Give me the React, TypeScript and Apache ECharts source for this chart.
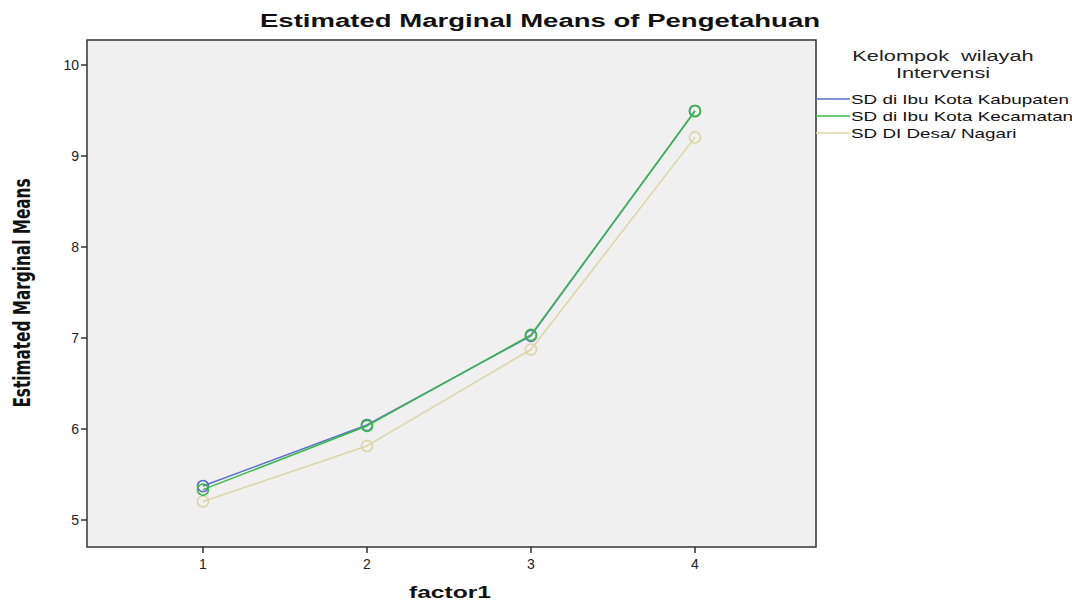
import React, { useEffect, useRef } from "react";
import * as echarts from "echarts";

const categories = [1, 2, 3, 4];
const seriesNames = [
  "SD di Ibu Kota Kabupaten",
  "SD di Ibu Kota Kecamatan",
  "SD DI Desa/ Nagari",
];
const kabupaten = [5.37, 6.04, 7.02, 9.49];
const kecamatan = [5.33, 6.03, 7.03, 9.49];
const desa = [5.2, 5.81, 6.87, 9.2];
const yTicks = [5, 6, 7, 8, 9, 10];
const colors = ["#5c6fc4", "#3cb84a", "#ddd4a6"];
const chartTitle = "Estimated Marginal Means of Pengetahuan";
const legendTitle = ["Kelompok  wilayah", "Intervensi"];
const xName = "factor1";
const yName = "Estimated Marginal Means";

export default function App() {
  const ref = useRef<HTMLDivElement>(null);
  useEffect(() => {
    const chart = echarts.init(ref.current!, null, { renderer: "svg" });
    const values = [kabupaten, kecamatan, desa];
    const font = "'Liberation Sans', Arial, sans-serif";
    const SX = 1.45;
    const legendGraphics: any[] = [];
    seriesNames.forEach((n, i) => {
      const y = 99 + i * 17;
      legendGraphics.push({
        type: "line",
        shape: { x1: 816, y1: y, x2: 850, y2: y },
        style: { stroke: colors[i], lineWidth: 1.5 },
      });
      legendGraphics.push({
        type: "text",
        x: 851,
        y: y,
        scaleX: SX,
        style: {
          text: n,
          fill: "#111",
          font: `13px ${font}`,
          verticalAlign: "middle",
        },
      });
    });
    chart.setOption({
      animation: false,
      backgroundColor: "#ffffff",
      grid: {
        left: 87,
        top: 40,
        right: 256,
        bottom: 55,
        outerBoundsMode: "none",
        containLabel: false,
        show: true,
        backgroundColor: "#f0f0f0",
        borderColor: "#333",
        borderWidth: 1.5,
      },
      graphic: [
        {
          type: "text",
          x: 540,
          y: 21,
          scaleX: SX,
          style: {
            text: chartTitle,
            fill: "#111",
            font: `bold 19px ${font}`,
            align: "center",
            verticalAlign: "middle",
          },
        },
        {
          type: "text",
          x: 943,
          y: 56,
          scaleX: SX,
          style: {
            text: legendTitle[0],
            fill: "#222",
            font: `15px ${font}`,
            align: "center",
            verticalAlign: "middle",
          },
        },
        {
          type: "text",
          x: 943,
          y: 73,
          scaleX: SX,
          style: {
            text: legendTitle[1],
            fill: "#222",
            font: `15px ${font}`,
            align: "center",
            verticalAlign: "middle",
          },
        },
        {
          type: "text",
          x: 450,
          y: 592,
          scaleX: SX,
          style: {
            text: xName,
            fill: "#111",
            font: `bold 17px ${font}`,
            align: "center",
            verticalAlign: "middle",
          },
        },
        {
          type: "text",
          x: 22,
          y: 293,
          rotation: Math.PI / 2,
          scaleY: 1.4,
          style: {
            text: yName,
            fill: "#111",
            font: `bold 17px 'Liberation Sans Narrow', 'DejaVu Sans Condensed', Arial, sans-serif`,
            align: "center",
            verticalAlign: "middle",
          },
        },
        ...legendGraphics,
      ],
      xAxis: {
        type: "value",
        min: 0.293,
        max: 4.738,
        axisLine: { show: false },
        axisTick: {
          show: true,
          length: 6,
          customValues: categories,
          lineStyle: { color: "#333", width: 1.5 },
        },
        axisLabel: {
          customValues: categories,
          fontFamily: font,
          fontSize: 14,
          color: "#222",
          margin: 10,
        },
        splitLine: { show: false },
      },
      yAxis: {
        type: "value",
        min: 4.7,
        max: 10.27,
        axisLine: { show: false },
        axisTick: {
          show: true,
          length: 6,
          customValues: yTicks,
          lineStyle: { color: "#333", width: 1.5 },
        },
        axisLabel: {
          customValues: yTicks,
          fontFamily: font,
          fontSize: 14,
          color: "#222",
          margin: 8,
        },
        splitLine: { show: false },
      },
      series: seriesNames.map((n, i) => ({
        name: n,
        type: "line",
        data: categories.map((c, j) => [c, values[i][j]]),
        symbol: "circle",
        symbolSize: 11,
        z: i === 1 ? 12 : i === 0 ? 11 : 10,
        lineStyle: { color: colors[i], width: 1.5 },
        itemStyle: { color: "transparent", borderColor: colors[i], borderWidth: 1.5 },
      })),
    });
    return () => chart.dispose();
  }, []);
  return (
    <div
      ref={ref}
      style={{ position: "absolute", left: 0, top: 0, width: 1072, height: 602 }}
    />
  );
}
